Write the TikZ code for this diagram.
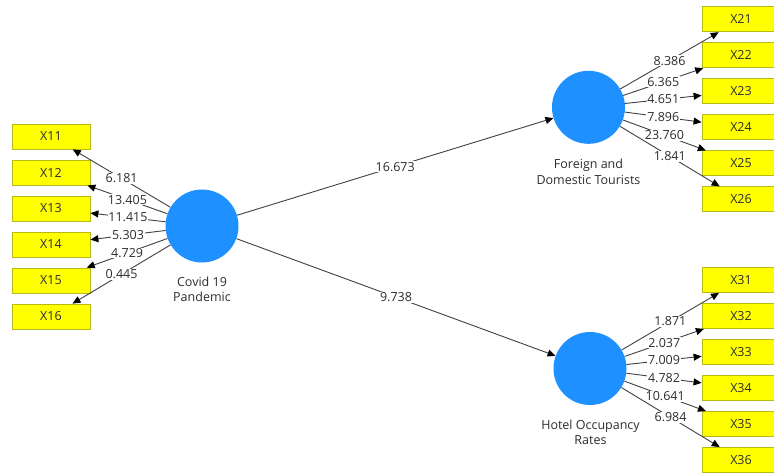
\documentclass[tikz,border=0pt]{standalone}
\usepackage{fontspec}
\setmainfont{Open Sans}
\usetikzlibrary{arrows.meta}
\definecolor{lvblue}{RGB}{30,144,255}
\definecolor{mvyellow}{RGB}{255,255,0}
\definecolor{mvborder}{RGB}{185,185,20}
\definecolor{linkgray}{RGB}{64,64,64}
\definecolor{txtgray}{RGB}{45,45,45}
\begin{document}
\begin{tikzpicture}[x=1pt,y=-1pt,
  latent/.style={circle,fill=lvblue,minimum size=73pt,inner sep=0pt},
  indicator/.style={rectangle,fill=mvyellow,draw=mvborder,line width=0.8pt,
    minimum width=78pt,minimum height=25pt,inner sep=0pt,
    font=\fontsize{12.5}{14}\selectfont,text=txtgray},
  caption/.style={align=center,font=\fontsize{12.5}{15.5}\selectfont,text=txtgray},
  link/.style={draw=linkgray,line width=0.9pt,
    -{Triangle[length=8pt,width=7pt,color=black]}},
  weight/.style={fill=white,inner sep=0.8pt,
    font=\fontsize{12.5}{14}\selectfont,text=txtgray}]
\useasboundingbox (0,0) rectangle (774,472);
\clip (0,0) rectangle (774,472);

% latent variables
\node[latent] (cv) at (202,226) {};
\node[latent] (ft) at (588.5,107.3) {};
\node[latent] (ho) at (590,368.5) {};
\node[caption] (cvl) at (202,289.5) {Covid 19\\Pandemic};
\node[caption] (ftl) at (588.5,172) {Foreign and\\Domestic Tourists};
\node[caption] (hol) at (590.5,432.5) {Hotel Occupancy\\Rates};

% indicators
\foreach \i in {1,...,6} {
  \node[indicator] (x1\i) at (51,100.5+36*\i) {X1\i};
  \node[indicator] (x2\i) at (741,-16.7+36*\i) {X2\i};
  \node[indicator] (x3\i) at (741,244+36*\i) {X3\i};
}

% structural paths
\draw[link] (cv) -- node[weight]{16.673} (ft);
\draw[link] (cv) -- node[weight]{9.738} (ho);

% outer paths
\draw[link] (cv) -- node[weight]{6.181} (x11);
\draw[link] (cv) -- node[weight]{13.405} (x12);
\draw[link] (cv) -- node[weight]{11.415} (x13);
\draw[link] (cv) -- node[weight]{5.303} (x14);
\draw[link] (cv) -- node[weight]{4.729} (x15);
\draw[link] (cv) -- node[weight]{0.445} (x16);

\draw[link] (ft) -- node[weight]{8.386} (x21);
\draw[link] (ft) -- node[weight]{6.365} (x22);
\draw[link] (ft) -- node[weight]{4.651} (x23);
\draw[link] (ft) -- node[weight]{7.896} (x24);
\draw[link] (ft) -- node[weight]{23.760} (x25);
\draw[link] (ft) -- node[weight]{1.841} (x26);

\draw[link] (ho) -- node[weight]{1.871} (x31);
\draw[link] (ho) -- node[weight]{2.037} (x32);
\draw[link] (ho) -- node[weight]{7.009} (x33);
\draw[link] (ho) -- node[weight]{4.782} (x34);
\draw[link] (ho) -- node[weight]{10.641} (x35);
\draw[link] (ho) -- node[weight]{6.984} (x36);
\end{tikzpicture}
\end{document}
